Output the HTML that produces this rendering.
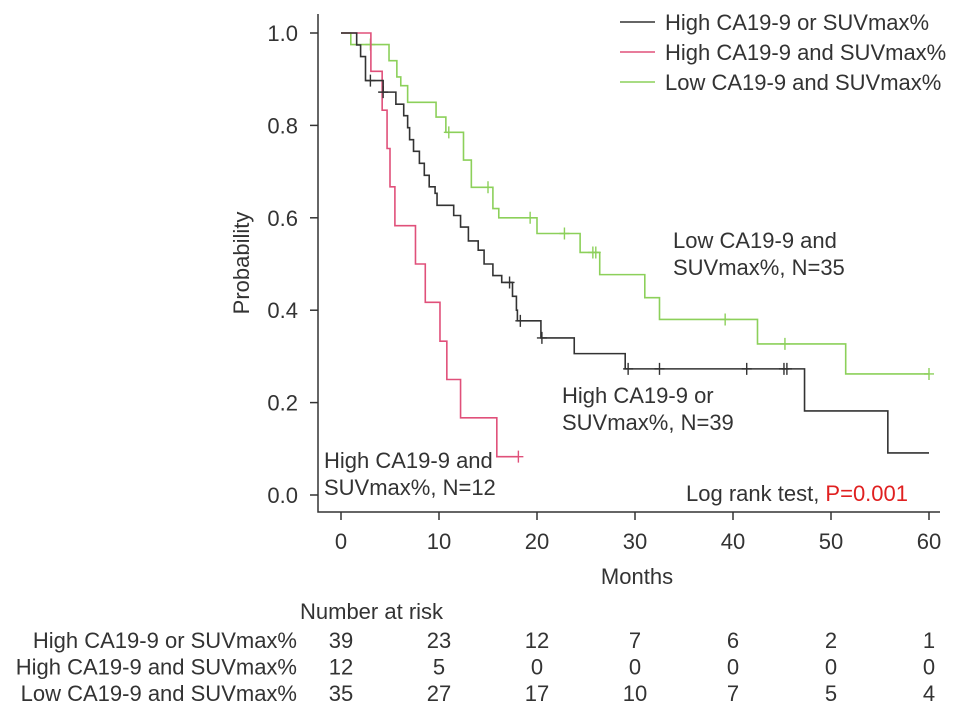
<!DOCTYPE html>
<html><head><meta charset="utf-8"><style>
html,body{margin:0;padding:0;background:#fff;}
svg text{font-family:"Liberation Sans",Arial,sans-serif;fill:#333;}
</style></head><body>
<svg id="chart" width="969" height="714" viewBox="0 0 969 714" xmlns="http://www.w3.org/2000/svg">
<g id="axes"></g><g id="curves"></g><g id="labels"></g><g id="risk"></g>
</svg>
<script>
const xTicks=[0,10,20,30,40,50,60];
const yTicks=[0.0,0.2,0.4,0.6,0.8,1.0];
const groupNames=["High CA19-9 or SUVmax%","High CA19-9 and SUVmax%","Low CA19-9 and SUVmax%"];
const colors=["#333333","#e0507a","#8cd05a"];
const blackT=[1.6,2.0,2.5,4.3,5.6,6.4,6.8,7.0,7.4,8.0,8.5,9.0,9.6,9.8,11.5,12.2,13.0,14.0,14.6,15.5,16.4,17.5,17.9,18.0,20.4,23.8,29.0,47.3,55.8];
const blackS=[0.974,0.949,0.897,0.872,0.846,0.821,0.795,0.769,0.744,0.718,0.692,0.667,0.653,0.627,0.605,0.58,0.55,0.53,0.50,0.475,0.46,0.43,0.40,0.377,0.34,0.306,0.273,0.182,0.091];
const blackCensT=[3.0,4.3,17.2,18.3,20.5,29.3,32.5,41.4,45.2,45.5];
const blackEnd=60;
const pinkT=[3.05,4.2,4.7,5.0,5.5,7.6,8.6,10.1,10.8,12.2,15.9];
const pinkS=[0.917,0.833,0.75,0.667,0.583,0.5,0.417,0.333,0.25,0.167,0.083];
const pinkCensT=[18.1];
const pinkEnd=18.1;
const greenT=[1.0,4.9,5.7,6.1,6.8,9.7,10.7,12.5,13.3,15.5,16.1,20.0,24.4,26.4,31.0,32.5,42.5,51.5];
const greenS=[0.975,0.94,0.905,0.886,0.85,0.818,0.785,0.725,0.666,0.62,0.60,0.566,0.525,0.477,0.427,0.38,0.327,0.262];
const greenCensT=[3.0,11.0,15.0,19.3,22.8,25.7,26.0,39.2,45.3,60];
const greenEnd=60;
const riskTimes=[0,10,20,30,40,50,60];
const riskBlack=[39,23,12,7,6,2,1];
const riskPink=[12,5,0,0,0,0,0];
const riskGreen=[35,27,17,10,7,5,4];

const NS="http://www.w3.org/2000/svg";
const FS=22;
const X=m=>341+m*9.8;
const Y=p=>495-p*462;
function el(tag,attrs,parent,txt){const e=document.createElementNS(NS,tag);for(const k in attrs)e.setAttribute(k,attrs[k]);if(txt!==undefined)e.textContent=txt;parent.appendChild(e);return e;}
const axes=document.getElementById('axes');
let a=el('path',{d:`M318,14 L318,512 L940,512`,fill:'none',stroke:'#333','stroke-width':1.5},axes);

xTicks.forEach(t=>{
 let l=el('line',{x1:X(t),x2:X(t),y1:512,y2:520,stroke:'#333','stroke-width':1.5},axes);
 
 let tx=el('text',{x:X(t),y:549,'text-anchor':'middle','font-size':FS},axes,String(t));
 
});
yTicks.forEach(t=>{
 let l=el('line',{x1:310,x2:318,y1:Y(t),y2:Y(t),stroke:'#333','stroke-width':1.5},axes);
 
 let tx=el('text',{x:298,y:Y(t)+8,'text-anchor':'end','font-size':FS},axes,t.toFixed(1));
 
});
let xt=el('text',{x:637,y:584,'text-anchor':'middle','font-size':FS},axes,'Months');

let yt=el('text',{x:249,y:263,'text-anchor':'middle','font-size':FS,transform:'rotate(-90 249 263)'},axes,'Probability');


const curves=document.getElementById('curves');
function stepS(T,S,t){let s=1;for(let i=0;i<T.length;i++){if(T[i]<=t)s=S[i];}return s;}
function drawCurve(T,S,C,end,color,name){
 let d=`M${X(0)},${Y(1)}`;
 for(let i=0;i<T.length;i++){d+=` H${X(T[i])} V${Y(S[i])}`;}
 d+=` H${X(end)}`;
 let p=el('path',{d:d,fill:'none',stroke:color,'stroke-width':1.6},curves);
 
 C.forEach(c=>{const yy=Y(stepS(T,S,c));
  let m=el('path',{d:`M${X(c)-5},${yy} H${X(c)+5} M${X(c)},${yy-6} V${yy+6}`,stroke:color,'stroke-width':1.4},curves);
  
 });
}
drawCurve(greenT,greenS,greenCensT,greenEnd,colors[2],'low-group');
drawCurve(pinkT,pinkS,pinkCensT,pinkEnd,colors[1],'high-and-group');
drawCurve(blackT,blackS,blackCensT,blackEnd,colors[0],'high-or-group');

const labels=document.getElementById('labels');
groupNames.forEach((n,i)=>{
 const yy=22+i*30;
 let l=el('line',{x1:620,x2:655,y1:yy,y2:yy,stroke:colors[i],'stroke-width':1.6},labels);
 
 let t=el('text',{x:665,y:yy+8,'font-size':FS},labels,n);
 
});
function ann(x,y,lines,name){lines.forEach((s,i)=>{let t=el('text',{x:x,y:y+i*27,'font-size':FS},labels,s);});}
ann(673,248,["Low CA19-9 and","SUVmax%, N=35"],'low-group-annotation');
ann(562,403,["High CA19-9 or","SUVmax%, N=39"],'high-or-annotation');
ann(324,468,["High CA19-9 and","SUVmax%, N=12"],'high-and-annotation');
let lr=el('text',{x:686,y:501,'font-size':FS},labels,'Log rank test, ');

let ts=el('tspan',{style:'fill:#e02020'},lr,'P=0.001');


const risk=document.getElementById('risk');
let nr=el('text',{x:300,y:619,'font-size':FS},risk,'Number at risk');

[riskBlack,riskPink,riskGreen].forEach((row,i)=>{
 const yy=648+i*26.5;
 let t=el('text',{x:297,y:yy,'text-anchor':'end','font-size':FS},risk,groupNames[i]);
 
 row.forEach((v,j)=>{let c=el('text',{x:X(riskTimes[j]),y:yy,'text-anchor':'middle','font-size':FS},risk,String(v));
  });
});
</script>
</body></html>
